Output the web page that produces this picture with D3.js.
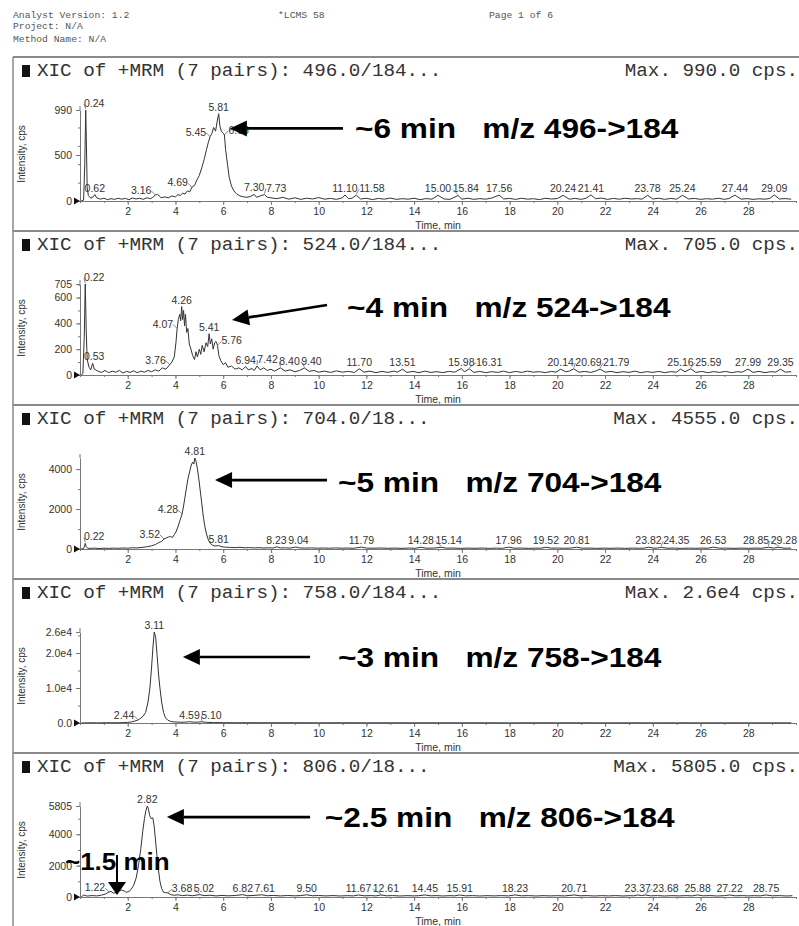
<!DOCTYPE html>
<html>
<head>
<meta charset="utf-8">
<script src="https://cdn.jsdelivr.net/npm/d3@7"></script>
<style>
  body { margin: 0; background: #fff; }
  svg { display: block; background: #fff; }
</style>
</head>
<body>
<div id="chart"></div>
<script>
// XIC traces of five MRM transitions (precursor -> 184)

const titles = [
  "XIC of +MRM (7 pairs): 496.0/184...",
  "XIC of +MRM (7 pairs): 524.0/184...",
  "XIC of +MRM (7 pairs): 704.0/18...",
  "XIC of +MRM (7 pairs): 758.0/184...",
  "XIC of +MRM (7 pairs): 806.0/18..."
];
const maxTexts = ["Max. 990.0 cps.", "Max. 705.0 cps.", "Max. 4555.0 cps.", "Max. 2.6e4 cps.", "Max. 5805.0 cps."];
const yMax = [990, 705, 4555, 26000, 5805];
const yTickValues = [[0, 500, 990], [0, 200, 400, 600, 705], [0, 2000, 4000], [0, 10000, 20000, 26000], [0, 2000, 4000, 5805]];
const yTickText = [["0", "500", "990"], ["0", "200", "400", "600", "705"], ["0", "2000", "4000"], ["0.0", "1.0e4", "2.0e4", "2.6e4"], ["0", "2000", "4000", "5805"]];
const xTickValues = [2, 4, 6, 8, 10, 12, 14, 16, 18, 20, 22, 24, 26, 28];

const trace496 = [
  [0.05,0],[0.15,10],[0.2,400],[0.24,990],[0.27,600],[0.3,150],[0.35,60],[0.45,30],[0.55,45],[0.62,70],[0.7,35],[0.85,20],
  [1.0,30],[1.15,15],[1.3,25],[1.45,18],[1.6,30],[1.75,20],[1.9,28],[2.05,15],[2.2,32],[2.35,22],[2.5,30],[2.65,18],
  [2.8,35],[2.95,25],[3.05,40],[3.16,65],[3.25,72],[3.4,35],[3.55,45],[3.7,35],[3.85,55],[4.0,45],[4.1,70],[4.2,60],
  [4.3,85],[4.4,75],[4.5,110],[4.6,100],[4.69,150],[4.8,170],[4.9,230],[5.0,280],[5.1,360],[5.2,450],[5.3,560],[5.38,640],
  [5.45,700],[5.52,730],[5.6,800],[5.68,760],[5.75,870],[5.81,950],[5.86,820],[5.92,760],[6.0,740],[6.05,720],[6.1,560],
  [6.18,400],[6.25,260],[6.35,160],[6.45,110],[6.55,80],[6.7,55],[6.85,45],[7.0,40],[7.15,50],[7.3,72],[7.4,40],[7.55,55],
  [7.73,70],[7.85,40],[8.0,35],[8.25,25],[8.5,40],[8.75,20],[9.0,35],[9.25,18],[9.5,30],[9.75,22],[10.0,38],[10.25,20],
  [10.5,28],[10.75,18],[11.0,35],[11.1,66],[11.25,25],[11.4,30],[11.58,64],[11.75,22],[12.0,30],[12.25,15],[12.5,28],
  [12.75,20],[13.0,32],[13.25,18],[13.5,25],[13.75,20],[14.0,30],[14.25,15],[14.5,26],[14.75,20],[15.0,62],[15.25,22],
  [15.5,18],[15.84,60],[16.0,20],[16.25,30],[16.5,18],[16.75,26],[17.0,20],[17.25,32],[17.56,64],[17.75,22],[18.0,28],
  [18.25,18],[18.5,30],[18.75,20],[19.0,25],[19.25,15],[19.5,30],[19.75,22],[20.0,26],[20.24,62],[20.5,20],[20.75,28],
  [21.0,18],[21.2,30],[21.41,66],[21.6,25],[21.85,32],[22.1,18],[22.35,28],[22.6,20],[22.85,30],[23.1,22],[23.35,26],
  [23.55,20],[23.78,62],[24.0,22],[24.25,30],[24.5,18],[24.75,28],[25.0,20],[25.24,62],[25.5,22],[25.75,28],[26.0,18],
  [26.25,25],[26.5,20],[26.75,30],[27.0,18],[27.2,28],[27.44,64],[27.7,20],[27.95,26],[28.2,18],[28.45,24],[28.7,20],
  [28.9,28],[29.09,66],[29.3,22],[29.55,26],[29.8,20]
];
const trace524 = [
  [0.05,0],[0.12,10],[0.18,300],[0.22,705],[0.26,350],[0.3,120],[0.38,60],[0.45,40],[0.53,90],[0.6,45],[0.75,30],[0.9,20],
  [1.05,35],[1.2,18],[1.35,30],[1.5,22],[1.65,35],[1.8,15],[1.95,28],[2.1,20],[2.25,32],[2.4,18],[2.55,30],[2.7,22],
  [2.85,35],[3.0,25],[3.15,40],[3.3,30],[3.45,55],[3.6,45],[3.76,80],[3.85,100],[3.95,140],[4.02,250],[4.07,360],
  [4.12,430],[4.18,470],[4.22,420],[4.26,530],[4.3,430],[4.34,500],[4.38,380],[4.42,470],[4.47,330],[4.52,360],[4.58,240],
  [4.65,200],[4.72,150],[4.8,120],[4.86,180],[4.92,140],[5.0,200],[5.06,160],[5.12,230],[5.2,180],[5.28,250],[5.35,220],
  [5.41,320],[5.46,240],[5.52,280],[5.58,200],[5.64,250],[5.7,260],[5.76,230],[5.82,150],[5.9,110],[6.0,80],[6.1,95],
  [6.2,60],[6.35,70],[6.5,45],[6.65,55],[6.8,40],[6.94,65],[7.05,40],[7.2,50],[7.3,35],[7.42,70],[7.55,40],[7.7,55],
  [7.85,35],[8.0,45],[8.15,30],[8.4,55],[8.6,30],[8.8,40],[9.0,25],[9.2,35],[9.4,55],[9.6,28],[9.8,35],[10.0,22],
  [10.25,30],[10.5,20],[10.75,32],[11.0,22],[11.25,28],[11.5,20],[11.7,48],[11.9,22],[12.15,30],[12.4,18],[12.65,28],
  [12.9,20],[13.15,30],[13.3,22],[13.51,45],[13.7,20],[13.95,28],[14.2,18],[14.45,30],[14.7,20],[14.95,26],[15.2,18],
  [15.45,28],[15.7,22],[15.98,50],[16.1,25],[16.31,48],[16.5,20],[16.75,28],[17.0,18],[17.25,26],[17.5,20],[17.75,30],
  [18.0,18],[18.25,28],[18.5,20],[18.75,30],[19.0,22],[19.25,26],[19.5,18],[19.75,28],[19.95,22],[20.14,45],[20.35,25],
  [20.5,30],[20.69,48],[20.9,22],[21.15,28],[21.4,20],[21.6,30],[21.79,46],[22.0,22],[22.25,28],[22.5,18],[22.75,26],
  [23.0,20],[23.25,30],[23.5,18],[23.75,26],[24.0,20],[24.25,28],[24.5,18],[24.75,26],[25.0,22],[25.16,46],[25.35,25],
  [25.59,48],[25.8,20],[26.05,28],[26.3,18],[26.55,26],[26.8,20],[27.05,28],[27.3,18],[27.55,26],[27.75,22],[27.99,46],
  [28.2,20],[28.45,28],[28.7,18],[28.95,26],[29.15,22],[29.35,45],[29.55,22],[29.8,26]
];
const trace704 = [
  [0.05,0],[0.15,20],[0.19,150],[0.22,280],[0.26,120],[0.32,40],[0.45,30],[0.6,45],[0.8,25],[1.0,40],[1.2,30],[1.4,45],
  [1.6,35],[1.8,50],[2.0,40],[2.2,60],[2.4,55],[2.6,80],[2.8,110],[3.0,160],[3.15,220],[3.3,320],[3.42,380],[3.52,500],
  [3.6,540],[3.7,600],[3.8,620],[3.88,580],[3.95,720],[4.02,850],[4.1,1100],[4.18,1400],[4.28,1750],[4.36,2300],
  [4.44,2900],[4.52,3500],[4.6,3900],[4.66,4200],[4.72,4350],[4.77,4250],[4.81,4555],[4.86,4400],[4.92,4000],[4.98,3500],
  [5.04,2900],[5.1,2300],[5.16,1700],[5.22,1200],[5.3,750],[5.38,450],[5.46,280],[5.55,190],[5.65,150],[5.81,170],
  [5.95,110],[6.1,90],[6.3,80],[6.5,70],[6.7,85],[6.9,60],[7.1,70],[7.3,55],[7.5,65],[7.7,50],[7.9,60],[8.1,50],[8.23,110],
  [8.4,55],[8.6,60],[8.8,45],[9.04,100],[9.2,55],[9.45,45],[9.7,55],[9.95,40],[10.2,50],[10.45,38],[10.7,52],[10.95,40],
  [11.2,48],[11.45,35],[11.79,95],[12.0,45],[12.3,38],[12.6,50],[12.9,35],[13.2,45],[13.5,32],[13.8,48],[14.05,35],
  [14.28,90],[14.5,40],[14.8,45],[15.14,85],[15.35,40],[15.65,48],[15.95,32],[16.25,45],[16.55,35],[16.85,48],[17.15,32],
  [17.45,44],[17.7,35],[17.96,90],[18.2,40],[18.5,46],[18.8,32],[19.1,44],[19.3,38],[19.52,90],[19.75,42],[20.0,48],
  [20.3,36],[20.55,45],[20.81,88],[21.05,40],[21.35,45],[21.65,32],[21.95,44],[22.25,35],[22.55,46],[22.85,32],[23.15,44],
  [23.45,36],[23.65,45],[23.82,88],[24.05,42],[24.2,48],[24.35,86],[24.6,40],[24.9,45],[25.2,32],[25.5,44],[25.8,35],
  [26.1,46],[26.3,38],[26.53,90],[26.8,40],[27.1,45],[27.4,32],[27.7,44],[28.0,35],[28.3,46],[28.55,38],[28.85,88],
  [29.05,45],[29.28,86],[29.5,40],[29.8,44]
];
const trace758 = [
  [0.05,0],[0.3,60],[0.7,40],[1.1,70],[1.5,60],[1.8,90],[2.0,180],[2.15,300],[2.3,550],[2.44,900],[2.55,1400],[2.65,2000],
  [2.75,3000],[2.85,6000],[2.93,10000],[3.0,16000],[3.06,22000],[3.11,26000],[3.17,24500],[3.23,19500],[3.29,14000],
  [3.35,10000],[3.42,6000],[3.5,3000],[3.58,1500],[3.68,800],[3.8,450],[3.95,300],[4.2,220],[4.45,260],[4.59,380],
  [4.75,230],[4.95,250],[5.1,350],[5.3,180],[5.6,120],[6.0,90],[6.5,70],[7.0,80],[8.0,60],[9.0,70],[10.0,50],[11.0,65],
  [12.0,50],[13.0,60],[14.0,45],[15.0,55],[16.0,45],[17.0,55],[18.0,40],[19.0,55],[20.0,45],[21.0,50],[22.0,40],[23.0,50],
  [24.0,40],[25.0,50],[26.0,40],[27.0,48],[28.0,40],[29.0,45],[29.8,40]
];
const trace806 = [
  [0.05,0],[0.15,120],[0.3,60],[0.5,90],[0.7,70],[0.9,120],[1.05,180],[1.22,320],[1.3,360],[1.4,240],[1.5,280],[1.62,380],
  [1.75,450],[1.85,380],[1.95,300],[2.05,350],[2.15,500],[2.25,750],[2.35,1200],[2.45,2000],[2.55,3100],[2.63,4200],
  [2.7,5000],[2.76,5500],[2.82,5805],[2.87,5600],[2.92,5200],[2.98,5000],[3.05,5050],[3.1,4600],[3.16,3700],[3.22,2700],
  [3.28,1800],[3.35,1000],[3.42,550],[3.5,300],[3.58,280],[3.68,260],[3.8,150],[3.95,110],[4.1,140],[4.3,90],[4.5,120],
  [4.7,80],[5.02,150],[5.2,90],[5.45,110],[5.7,70],[5.95,100],[6.2,75],[6.5,95],[6.82,150],[7.0,80],[7.25,95],[7.61,140],
  [7.85,80],[8.1,100],[8.4,70],[8.7,95],[9.0,75],[9.25,90],[9.5,140],[9.75,80],[10.0,95],[10.3,70],[10.6,90],[10.9,65],
  [11.2,85],[11.45,70],[11.67,130],[11.9,75],[12.2,90],[12.4,70],[12.61,130],[12.85,75],[13.1,90],[13.4,65],[13.7,85],
  [14.0,70],[14.2,85],[14.45,130],[14.7,75],[14.95,88],[15.2,65],[15.5,85],[15.7,72],[15.91,130],[16.15,75],[16.45,88],
  [16.75,65],[17.05,85],[17.35,70],[17.65,88],[17.95,70],[18.23,130],[18.5,75],[18.8,88],[19.1,65],[19.4,85],[19.7,70],
  [20.0,85],[20.3,68],[20.71,130],[20.95,75],[21.25,88],[21.55,65],[21.85,85],[22.15,70],[22.45,88],[22.75,65],[23.05,85],
  [23.2,75],[23.37,130],[23.52,85],[23.68,130],[23.9,75],[24.2,88],[24.5,65],[24.8,85],[25.1,70],[25.4,88],[25.65,72],
  [25.88,130],[26.1,75],[26.4,88],[26.7,65],[27.0,85],[27.22,130],[27.45,75],[27.75,88],[28.0,70],[28.25,85],[28.5,72],
  [28.75,130],[29.0,75],[29.3,88],[29.6,65],[29.85,80]
];

// retention times printed above the peaks
const peaks496 = [0.24, 0.62, 3.16, 4.69, 5.45, 5.81, 6.05, 7.30, 7.73, 11.10, 11.58, 15.00, 15.84, 17.56, 20.24, 21.41, 23.78, 25.24, 27.44, 29.09];
const peaks524 = [0.22, 0.53, 3.76, 4.07, 4.26, 5.41, 5.76, 6.94, 7.42, 8.40, 9.40, 11.70, 13.51, 15.98, 16.31, 20.14, 20.69, 21.79, 25.16, 25.59, 27.99, 29.35];
const peaks704 = [0.22, 3.52, 4.28, 4.81, 5.81, 8.23, 9.04, 11.79, 14.28, 15.14, 17.96, 19.52, 20.81, 23.82, 24.35, 26.53, 28.85, 29.28];
const peaks758 = [2.44, 3.11, 4.59, 5.10];
const peaks806 = [1.22, 2.82, 3.68, 5.02, 6.82, 7.61, 9.50, 11.67, 12.61, 14.45, 15.91, 18.23, 20.71, 23.37, 23.68, 25.88, 27.22, 28.75];

// hand-written callouts, anchored in (time, intensity) of each panel
const noteText = ["~6 min   m/z 496->184", "~4 min   m/z 524->184", "~5 min   m/z 704->184", "~3 min   m/z 758->184", "~2.5 min   m/z 806->184"];
const noteTip = [[6.28, 790], [6.37, 426], [5.66, 3450], [4.31, 18860], [3.64, 5100]];
const noteTail = [[11.02, 790], [10.35, 542], [10.35, 3450], [9.64, 18860], [9.64, 5100]];
const noteAt = [[11.52, 790], [11.19, 527], [10.81, 3350], [10.81, 18860], [10.26, 5100]];
const smallNoteText = "~1.5 min";
const smallNoteAt = [-0.63, 2233];
const smallNoteTip = [1.55, 128];
const smallNoteTail = [1.55, 2679];

const traces = [trace496, trace524, trace704, trace758, trace806];
const peaks = [peaks496, peaks524, peaks704, peaks758, peaks806];

const width = 799, height = 926;
const panelTop = 57, panelH = 174;
const sans = "'Liberation Sans', Arial, sans-serif";
const mono = "'Liberation Mono', 'Courier New', monospace";

const svg = d3
  .select("#chart")
  .append("svg")
  .attr("width", width)
  .attr("height", height)
  .style("font-family", sans);

const x = d3.scaleLinear().domain([0, 30]).range([80, 796]);

// page header
const header = svg
  .append("g")
  .attr("font-family", mono)
  .attr("font-size", 9.7)
  .attr("fill", "#555");
header.append("text").attr("x", 13).attr("y", 18).text("Analyst Version: 1.2");
header.append("text").attr("x", 13).attr("y", 29).text("Project: N/A");
header.append("text").attr("x", 13).attr("y", 42).text("Method Name: N/A");
header.append("text").attr("x", 278).attr("y", 18).text("*LCMS 58");
header.append("text").attr("x", 489).attr("y", 18).text("Page 1 of 6");

// frame
svg
  .append("line")
  .attr("x1", 13).attr("x2", width)
  .attr("y1", panelTop).attr("y2", panelTop)
  .attr("stroke", "#8a8a8a")
  .attr("stroke-width", 2);
svg
  .append("line")
  .attr("x1", 13).attr("x2", 13)
  .attr("y1", panelTop).attr("y2", height)
  .attr("stroke", "#8a8a8a")
  .attr("stroke-width", 1.5);

function arrow(g, x1, y1, x2, y2, headLen, headW, strokeW) {
  const ang = Math.atan2(y2 - y1, x2 - x1);
  const bx = x2 - headLen * Math.cos(ang);
  const by = y2 - headLen * Math.sin(ang);
  const px = -Math.sin(ang) * headW;
  const py = Math.cos(ang) * headW;
  g.append("line")
    .attr("x1", x1).attr("y1", y1)
    .attr("x2", bx).attr("y2", by)
    .attr("stroke", "#000")
    .attr("stroke-width", strokeW);
  g.append("path")
    .attr("d", `M${x2},${y2}L${bx + px},${by + py}L${bx - px},${by - py}Z`)
    .attr("fill", "#000");
}

function drawLabels(g, trace, times, y, yMaxVal) {
  const base = y(0);
  const gap = 1.5;
  const items = times.map((t) => {
    const i = d3.minIndex(trace, (d) => Math.abs(d[0] - t));
    const v = trace[i][1];
    const prev = trace[Math.max(0, i - 1)][1];
    const next = trace[Math.min(trace.length - 1, i + 1)][1];
    let side = "mid";
    if (v > 0.03 * yMaxVal && !(v >= prev && v >= next)) side = next > v ? "left" : "right";
    const text = g
      .append("text")
      .attr("font-size", 10.5)
      .attr("fill", "#333")
      .text(d3.format(".2f")(t));
    const w = text.node().getComputedTextLength();
    const px = x(t), py = y(v);
    let x0;
    if (side === "left") x0 = px - 4 - w;
    else if (side === "right") x0 = px + 4;
    else x0 = Math.max(px - w / 2, x(0) + 4);
    const ty = side === "mid" ? Math.min(py - 3, base - 2) : py - 1;
    return { text, w, px, py, x0, ty, side };
  });

  // push overlapping labels on the same row to the right, then keep them inside the page
  items.forEach((d, k) => {
    items.slice(0, k).forEach((o) => {
      if (Math.abs(o.ty - d.ty) < 9 && d.x0 < o.x0 + o.w + gap && d.x0 + d.w > o.x0) {
        d.x0 = o.x0 + o.w + gap;
      }
    });
  });
  const limit = 797;
  for (let k = items.length - 1; k >= 0; k--) {
    const d = items[k];
    const nextItem = items[k + 1];
    let right = limit;
    if (nextItem && Math.abs(nextItem.ty - d.ty) < 9) right = Math.min(right, nextItem.x0 - gap);
    if (d.x0 + d.w > right) d.x0 = right - d.w;
  }

  items.forEach((d) => {
    d.text.attr("x", d.x0).attr("y", d.ty);
    const cx = d.x0 + d.w / 2;
    if (Math.abs(cx - d.px) > 4) {
      const ex = cx < d.px ? d.x0 + d.w : d.x0;
      g.append("line")
        .attr("x1", ex).attr("y1", d.ty - 3)
        .attr("x2", d.px).attr("y2", Math.min(d.py, d.ty + 2))
        .attr("stroke", "#555")
        .attr("stroke-width", 0.7);
    }
  });
}

traces.forEach((trace, i) => {
  const top = panelTop + i * panelH;
  const base = top + 144;
  const g = svg.append("g");

  const y = d3.scaleLinear().domain([0, yMax[i]]).range([base, top + 53]);

  if (i > 0) {
    g.append("line")
      .attr("x1", 13).attr("x2", width)
      .attr("y1", top).attr("y2", top)
      .attr("stroke", "#8a8a8a")
      .attr("stroke-width", 2);
  }

  // title bar
  g.append("rect")
    .attr("x", 22).attr("y", top + 8)
    .attr("width", 8).attr("height", 12)
    .attr("fill", "#111");
  g.append("text")
    .attr("transform", `translate(37,${top + 19}) scale(1.07,1)`)
    .attr("font-family", mono)
    .attr("font-size", 18)
    .attr("fill", "#333")
    .text(titles[i]);
  g.append("text")
    .attr("transform", `translate(798,${top + 19}) scale(1.07,1)`)
    .attr("text-anchor", "end")
    .attr("font-family", mono)
    .attr("font-size", 18)
    .attr("fill", "#333")
    .text(maxTexts[i]);

  // axes
  const xMinor = g
    .append("g")
    .attr("transform", `translate(0,${base})`)
    .call(d3.axisBottom(x).ticks(30).tickSize(2).tickSizeOuter(0).tickFormat(""));
  xMinor.select(".domain").attr("stroke", "#777");
  xMinor.selectAll(".tick line").attr("stroke", "#777");

  const xAxis = g
    .append("g")
    .attr("transform", `translate(0,${base})`)
    .call(d3.axisBottom(x).tickValues(xTickValues).tickSize(4).tickPadding(3).tickSizeOuter(0));
  xAxis.select(".domain").remove();
  xAxis.selectAll(".tick line").attr("stroke", "#777");
  xAxis.selectAll("text").attr("font-size", 10.5).attr("font-family", sans).attr("fill", "#333");

  const yMinor = g
    .append("g")
    .attr("transform", `translate(${x(0)},0)`)
    .call(d3.axisLeft(y).ticks(6).tickSize(2).tickSizeOuter(0).tickFormat(""));
  yMinor.select(".domain").attr("stroke", "#777");
  yMinor.selectAll(".tick line").attr("stroke", "#777");
  g.append("line")
    .attr("x1", x(0)).attr("x2", x(0))
    .attr("y1", y(yMax[i])).attr("y2", y(yMax[i]) - 4)
    .attr("stroke", "#777");

  const yAxis = g
    .append("g")
    .attr("transform", `translate(${x(0)},0)`)
    .call(
      d3.axisLeft(y)
        .tickValues(yTickValues[i])
        .tickFormat((d, k) => yTickText[i][k])
        .tickSize(4)
        .tickPadding(4)
        .tickSizeOuter(0)
    );
  yAxis.select(".domain").remove();
  yAxis.selectAll(".tick line").attr("stroke", "#777");
  yAxis.selectAll("text").attr("font-size", 10.5).attr("font-family", sans).attr("fill", "#333");

  g.append("path")
    .attr("d", `M${x(0) - 6},${base - 3.5}L${x(0)},${base}L${x(0) - 6},${base + 3.5}Z`)
    .attr("fill", "#111");

  g.append("text")
    .attr("transform", `translate(25,${top + 97}) rotate(-90)`)
    .attr("text-anchor", "middle")
    .attr("font-size", 10)
    .attr("fill", "#333")
    .text("Intensity, cps");
  g.append("text")
    .attr("x", x(15))
    .attr("y", top + 172)
    .attr("text-anchor", "middle")
    .attr("font-size", 10.5)
    .attr("fill", "#333")
    .text("Time, min");

  // chromatogram
  const line = d3
    .line()
    .x((d) => x(d[0]))
    .y((d) => y(d[1]));
  g.append("path")
    .datum(trace)
    .attr("fill", "none")
    .attr("stroke", "#333")
    .attr("stroke-width", 1)
    .attr("stroke-linejoin", "round")
    .attr("d", line);

  drawLabels(g, trace, peaks[i], y, yMax[i]);

  // callout
  arrow(g, x(noteTail[i][0]), y(noteTail[i][1]), x(noteTip[i][0]), y(noteTip[i][1]), 17, 8, 2.7);
  g.append("text")
    .attr("transform", `translate(${x(noteAt[i][0])},${y(noteAt[i][1])}) scale(1.13,1)`)
    .attr("xml:space", "preserve")
    .style("white-space", "pre")
    .attr("dominant-baseline", "central")
    .attr("font-size", 28)
    .attr("font-weight", "bold")
    .attr("fill", "#000")
    .text(noteText[i]);

  if (i === 4) {
    g.append("text")
      .attr("transform", `translate(${x(smallNoteAt[0])},${y(smallNoteAt[1])}) scale(1.13,1)`)
      .attr("dominant-baseline", "central")
      .attr("font-size", 23)
      .attr("font-weight", "bold")
      .attr("fill", "#000")
      .text(smallNoteText);
    arrow(g, x(smallNoteTail[0]), y(smallNoteTail[1]), x(smallNoteTip[0]), y(smallNoteTip[1]), 13, 9, 2);
  }
});
</script>
</body>
</html>
